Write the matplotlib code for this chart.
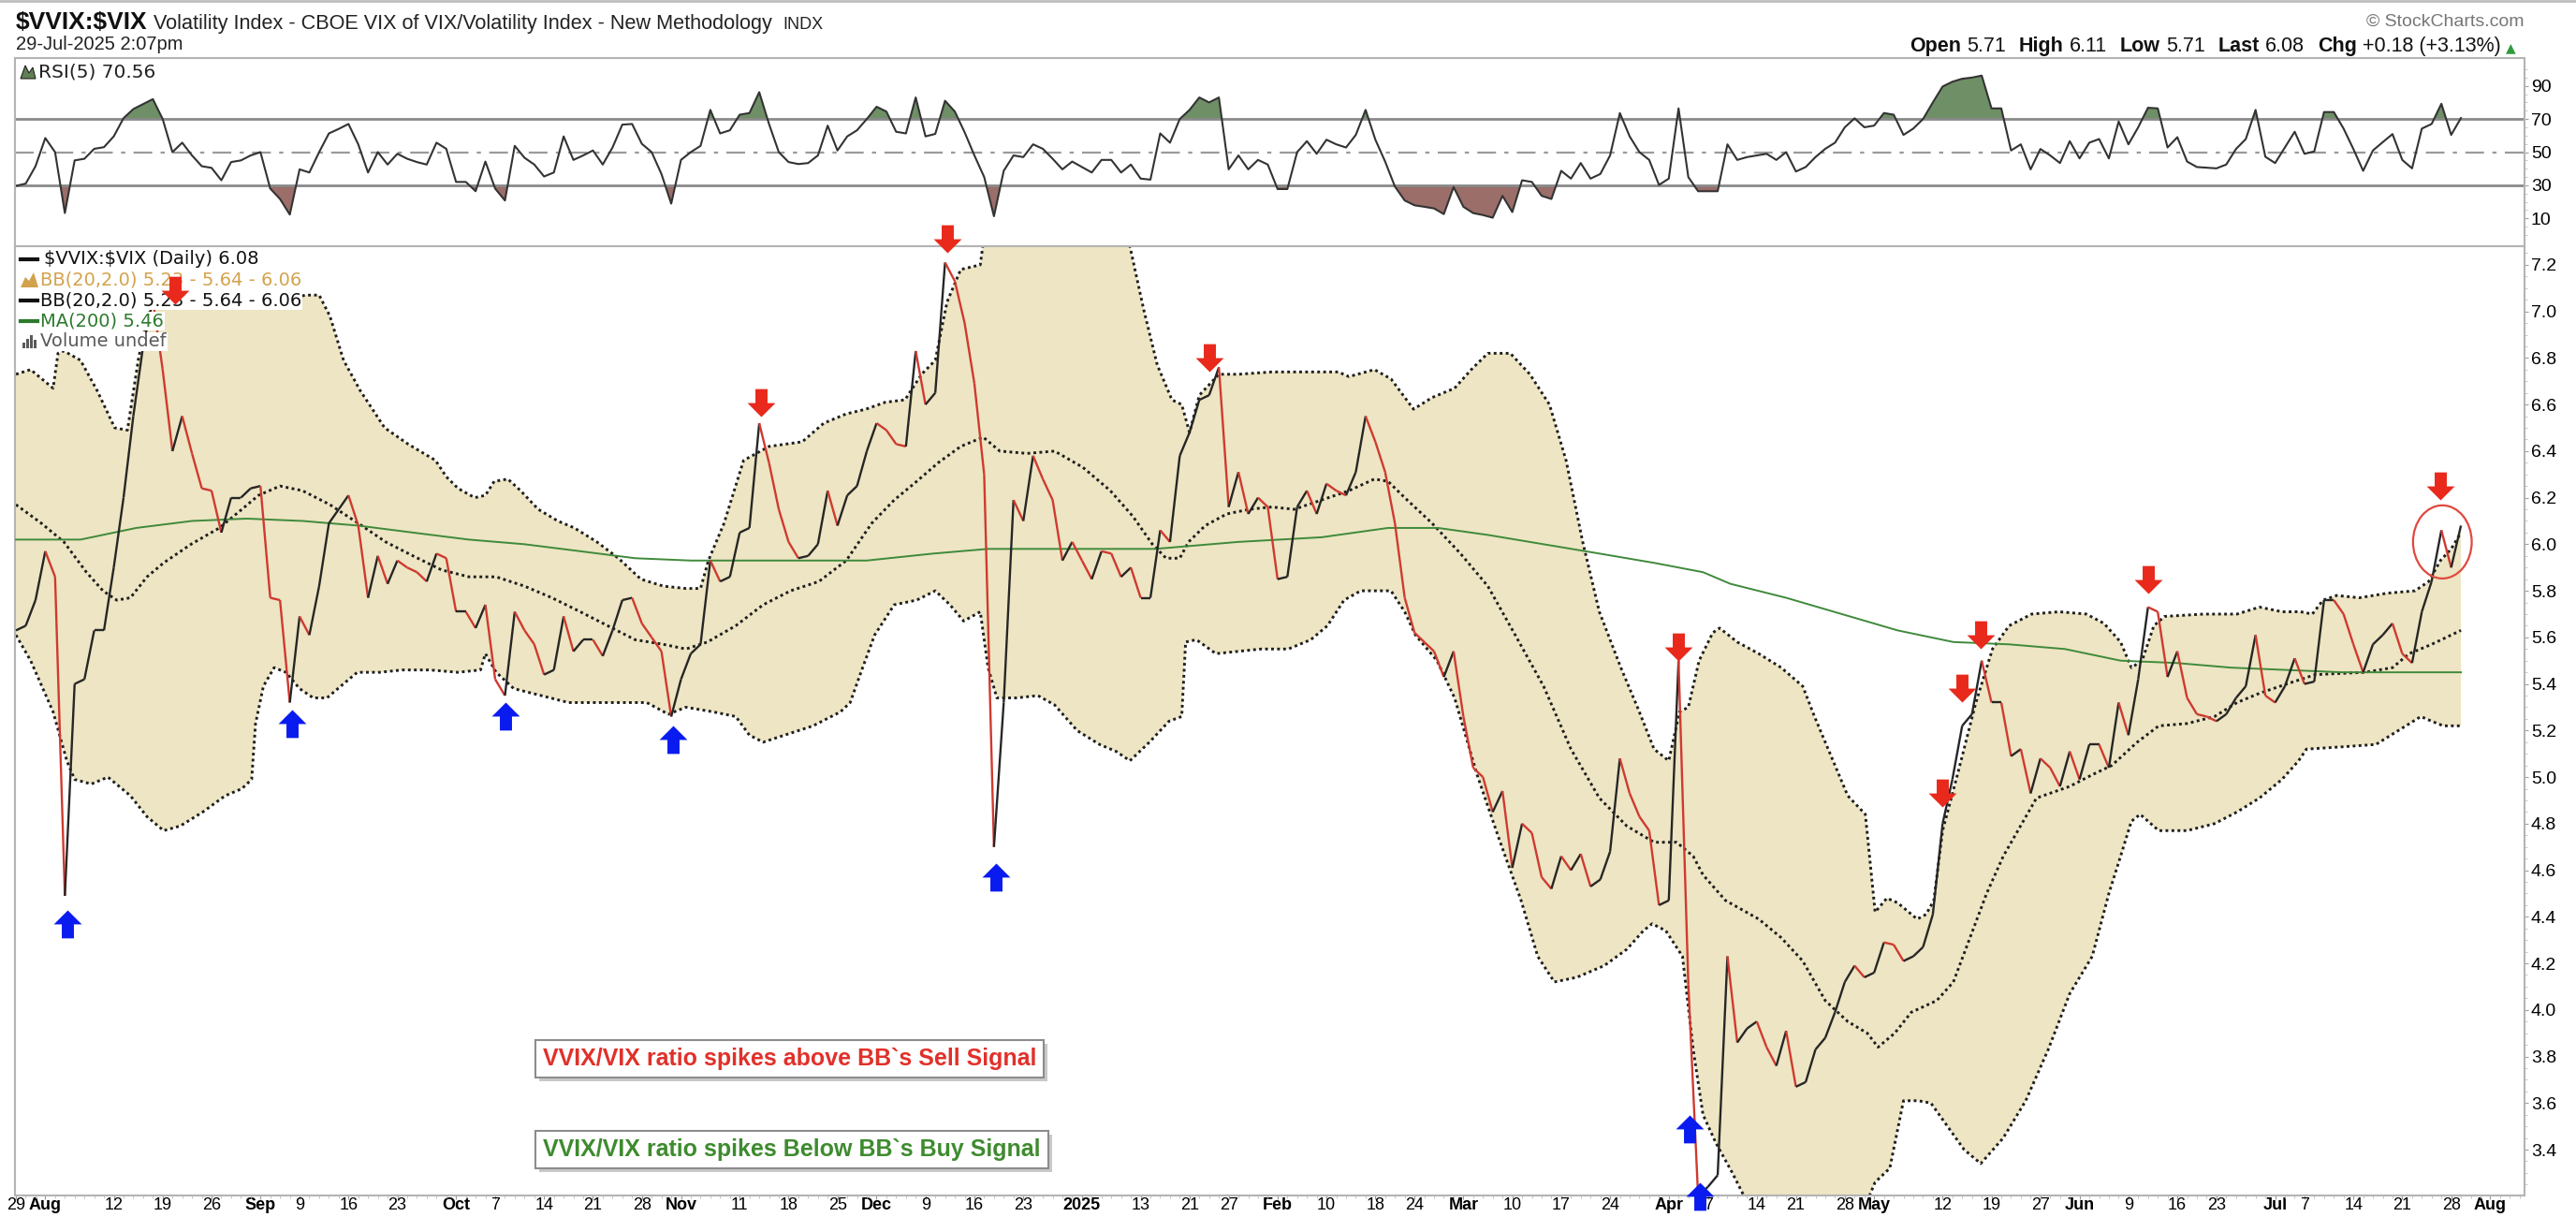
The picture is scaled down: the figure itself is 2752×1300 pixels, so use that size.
import numpy as np
import pandas as pd
import matplotlib
matplotlib.use('Agg')
import matplotlib.pyplot as plt
import matplotlib.transforms as mtransforms
from matplotlib.collections import LineCollection
from matplotlib.path import Path
from matplotlib.patches import Ellipse, Polygon
from matplotlib.lines import Line2D
from matplotlib import font_manager

# ---------------- data ----------------
holidays = ['2024-09-02', '2024-11-28', '2024-12-25', '2025-01-01', '2025-01-09', '2025-01-20',
            '2025-02-17', '2025-04-18', '2025-05-26', '2025-06-19', '2025-07-04']

# daily VVIX/VIX close, 29-Jul-2024 .. 29-Jul-2025
ratio = [5.63, 5.65, 5.76, 5.97, 5.86, 4.49, 5.40, 5.42, 5.63, 5.63,
         5.90, 6.20, 6.55, 6.85, 7.05, 6.75, 6.40, 6.55, 6.39, 6.24,
         6.23, 6.05, 6.20, 6.20, 6.24, 6.25, 5.77, 5.76, 5.32, 5.69,
         5.61, 5.82, 6.09, 6.15, 6.21, 6.08, 5.77, 5.95, 5.83, 5.93,
         5.90, 5.88, 5.84, 5.96, 5.94, 5.71, 5.71, 5.64, 5.74, 5.42,
         5.35, 5.71, 5.63, 5.57, 5.44, 5.46, 5.69, 5.54, 5.59, 5.59,
         5.52, 5.63, 5.76, 5.77, 5.66, 5.60, 5.54, 5.26, 5.42, 5.53,
         5.57, 5.93, 5.84, 5.86, 6.05, 6.07, 6.52, 6.35, 6.15, 6.01,
         5.94, 5.95, 6.00, 6.23, 6.08, 6.21, 6.25, 6.40, 6.52, 6.49,
         6.43, 6.42, 6.83, 6.60, 6.65, 7.21, 7.13, 6.95, 6.69, 6.30,
         4.70, 5.32, 6.19, 6.10, 6.38, 6.28, 6.19, 5.93, 6.01, 5.93,
         5.85, 5.97, 5.96, 5.86, 5.90, 5.77, 5.77, 6.06, 6.01, 6.38,
         6.48, 6.62, 6.64, 6.76, 6.16, 6.31, 6.13, 6.20, 6.16, 5.85,
         5.86, 6.16, 6.23, 6.13, 6.26, 6.23, 6.21, 6.31, 6.55, 6.44,
         6.31, 6.09, 5.77, 5.62, 5.58, 5.54, 5.43, 5.54, 5.26, 5.04,
         5.00, 4.85, 4.94, 4.61, 4.80, 4.76, 4.57, 4.52, 4.66, 4.60,
         4.67, 4.53, 4.56, 4.68, 5.08, 4.93, 4.83, 4.77, 4.45, 4.47,
         5.50, 4.11, 3.20, 3.24, 3.29, 4.23, 3.86, 3.92, 3.95, 3.84,
         3.76, 3.91, 3.67, 3.69, 3.83, 3.88, 3.99, 4.12, 4.19, 4.14,
         4.16, 4.29, 4.28, 4.21, 4.23, 4.27, 4.41, 4.80, 4.99, 5.22,
         5.27, 5.50, 5.32, 5.32, 5.09, 5.12, 4.93, 5.08, 5.04, 4.96,
         5.11, 4.99, 5.14, 5.14, 5.04, 5.32, 5.18, 5.42, 5.73, 5.71,
         5.43, 5.54, 5.34, 5.27, 5.26, 5.24, 5.27, 5.34, 5.39, 5.61,
         5.35, 5.32, 5.39, 5.51, 5.40, 5.41, 5.76, 5.76, 5.70, 5.57,
         5.45, 5.57, 5.61, 5.66, 5.53, 5.49, 5.71, 5.84, 6.06, 5.90,
         6.08]

rsi = [29.6, 31, 41.5, 58.5, 50, 13.2, 45, 46, 52, 53,
       59.5, 70.5, 76, 79, 82, 70, 50, 55.7, 48, 41.5,
       40.5, 33, 44, 45, 48, 50, 28, 21.7, 12.3, 39.6,
       37.7, 50, 61.3, 64, 67, 54.7, 37.7, 50, 42.5, 49,
       46, 44, 42.5, 55.7, 52, 32, 32, 26.4, 44.3, 28,
       20.8, 53.8, 46.6, 42.5, 35.3, 37.7, 59.5, 45.3, 48, 51,
       42.5, 52.8, 66.6, 67, 55, 50, 36.8, 18.9, 45.3, 50,
       53.8, 75.5, 61.3, 63.2, 72.6, 73.6, 86.2, 67, 50, 44,
       42.8, 43.4, 48, 66, 51, 59.5, 63.2, 70, 77.4, 74.5,
       62.3, 61.3, 83, 59.5, 61, 81, 74.5, 62, 48, 35,
       11.3, 38.7, 48, 47, 54.7, 52, 46, 39.6, 44.3, 41,
       37.7, 45.3, 45.3, 37.7, 42.5, 34, 33.4, 61.3, 55.7, 70,
       75.5, 83, 80, 83, 39.6, 48, 39.6, 45.3, 42.5, 27.7,
       27.7, 50, 56.6, 49, 57.5, 54.7, 52.8, 60.4, 75.5, 57.5,
       44.3, 29.2, 20.8, 17.9, 17, 16, 12.6, 28.9, 17, 13.2,
       12, 10.4, 23.6, 13.8, 33, 32, 23.6, 21.7, 38.7, 34,
       43.4, 34, 36.8, 48, 73.6, 59.5, 50, 45.3, 30.2, 34,
       76.4, 34.9, 26.4, 26.4, 26.4, 54.7, 45.3, 47, 48, 49,
       45.3, 50, 38.3, 41, 47, 52, 55.7, 65, 70.4, 65,
       66, 73.6, 72.6, 60.4, 64.2, 70, 80, 89.6, 92.5, 94.3,
       95, 96.2, 76.4, 76.4, 51, 54.7, 39.6, 51.9, 48, 43.4,
       56.6, 46.2, 55.7, 57.9, 46.2, 68.5, 54.7, 65, 76.8, 76.4,
       52.8, 59, 44.3, 41, 40.6, 40.2, 42.5, 51.9, 57.9, 75.5,
       47.2, 43.4, 52.8, 62.3, 49, 50.4, 74.2, 74.2, 64.2, 51.9,
       38.7, 51, 56, 60.9, 45.3, 40.2, 64.2, 67, 79.2, 60.4,
       70.56]

# Bollinger band / MA lines, (trading day number, value)
bb_up_x = [0, 1.5, 3.8, 4.3, 4.9, 6.6, 8.3, 10.1, 11.4, 12.5, 13.4, 14.5, 17, 20, 23, 25.9, 27.6, 29.6,
           31.0, 32.1, 33.5, 35.2, 37.7, 40.1, 42.9, 44.0, 45.2, 46.9, 48.0, 48.9, 50.3, 51.6, 53.4,
           55.4, 57.1, 59.4, 61.6, 63.9, 66.2, 68.5, 70.0, 70.8, 72.4, 74.4, 77.0, 80.4, 82.6, 84.9,
           86.9, 88.9, 90.9, 92.6, 94.0, 95.2, 96.6, 98.6, 99.4, 101, 104, 108, 111, 113.0, 113.9,
           115.3, 116.7, 118.2, 119.2, 120.0, 121.0, 123.0, 125.0, 128.4, 131.8, 135.2, 136.3, 138.9,
           140.6, 142.9, 144.8, 147.1, 148.8, 150.5, 152.8, 154.8, 156.8, 158.5, 160.2, 161.9, 164.1,
           165.8, 167.5, 169.0, 170.1, 171.0, 172.1, 173.5, 174.2, 176, 178.2, 180.5, 182.7, 183.9,
           185.6, 187.3, 189.1, 190.1, 191.3, 192.4, 194.4, 195.3, 196.1, 197.0, 198.7, 200.4, 202.1,
           203.8, 206.1, 208.9, 211.7, 213.5, 215.2, 216.3, 217.4, 218.6, 219.7, 223.7, 227.1, 229.4,
           231.7, 233.6, 234.8, 235.9, 237.3, 239.6, 242.5, 245.3, 246.7, 247.9, 249.0, 250]
bb_up_y = [6.73, 6.75, 6.67, 6.82, 6.83, 6.79, 6.66, 6.50, 6.49, 6.79, 6.98, 7.05, 7.06, 7.05, 7.05, 7.04,
           7.05, 7.07, 7.07, 6.98, 6.79, 6.66, 6.50, 6.43, 6.36, 6.29, 6.24, 6.20, 6.21, 6.27, 6.28,
           6.23, 6.15, 6.10, 6.07, 6.01, 5.94, 5.85, 5.82, 5.81, 5.81, 5.93, 6.09, 6.36, 6.42, 6.44,
           6.52, 6.56, 6.58, 6.61, 6.62, 6.73, 6.79, 7.04, 7.18, 7.20, 7.45, 7.65, 7.75, 7.70, 7.55,
           7.38, 7.28, 7.01, 6.77, 6.62, 6.60, 6.48, 6.64, 6.73, 6.73, 6.74, 6.74, 6.74, 6.72, 6.75,
           6.71, 6.58, 6.63, 6.67, 6.75, 6.82, 6.82, 6.73, 6.60, 6.36, 6.01, 5.71, 5.47, 5.30, 5.12,
           5.07, 5.28, 5.30, 5.50, 5.62, 5.64, 5.58, 5.53, 5.47, 5.39, 5.26, 5.09, 4.92, 4.84, 4.42,
           4.48, 4.46, 4.39, 4.41, 4.47, 4.77, 5.04, 5.32, 5.55, 5.65, 5.70, 5.71, 5.70, 5.66, 5.58,
           5.47, 5.50, 5.65, 5.69, 5.70, 5.70, 5.73, 5.71, 5.71, 5.70, 5.76, 5.78, 5.77, 5.79, 5.80,
           5.84, 5.93, 5.98, 6.05]

bb_lo_x = [0, 1.5, 3.8, 5.2, 6.0, 7.7, 9.4, 11.7, 13.4, 15.1, 16.8, 19.1, 21.4, 23.1, 24.1, 24.5, 25.3,
           26.4, 27.6, 29.0, 30.4, 31.8, 33.2, 34.9, 37.2, 39.5, 42.3, 45.2, 47.5, 48.0, 49.1, 50.9,
           53.7, 56.5, 59.4, 62.2, 64.5, 66.7, 68.5, 71.3, 73.6, 75.0, 76.4, 78.6, 81.5, 84.3, 85.3,
           86.4, 87.8, 89.8, 92.1, 94.0, 95.5, 96.9, 98.6, 99.4, 100.3, 102.3, 104.5, 106.2, 108.5,
           110.8, 112.5, 113.9, 115.9, 117.9, 119.2, 119.6, 120.7, 122.7, 125.0, 127.3, 130.1, 132.4,
           134.1, 135.8, 137.5, 140.6, 142.0, 143.1, 145.3, 147.1, 149.4, 151.6, 153.9, 155.6, 157.3,
           159.6, 162.4, 164.7, 166.4, 167.3, 168.7, 170.4, 171.5, 172.5, 173.8, 175.5, 176.7, 178,
           181, 185, 188, 190.1, 191.6, 193, 194.5, 195.8, 197.5, 199.2, 200.9, 203.2, 205.5, 207.8,
           210.0, 212.3, 214.0, 215.2, 216.3, 217.2, 219.1, 222, 224.8, 227.1, 229.4, 231.7, 233.4,
           234.2, 237.9, 241.3, 243.6, 245.9, 247, 248.2, 250]
bb_lo_y = [5.61, 5.50, 5.28, 5.07, 4.99, 4.97, 5.00, 4.92, 4.83, 4.77, 4.79, 4.85, 4.92, 4.95, 4.99, 5.23,
           5.39, 5.47, 5.45, 5.38, 5.34, 5.34, 5.39, 5.45, 5.45, 5.46, 5.46, 5.45, 5.46, 5.53, 5.45,
           5.38, 5.35, 5.32, 5.32, 5.32, 5.32, 5.27, 5.30, 5.28, 5.26, 5.18, 5.15, 5.18, 5.22, 5.28,
           5.32, 5.45, 5.61, 5.74, 5.76, 5.80, 5.74, 5.67, 5.71, 5.47, 5.34, 5.34, 5.35, 5.31, 5.20,
           5.14, 5.11, 5.07, 5.15, 5.24, 5.26, 5.58, 5.59, 5.53, 5.54, 5.55, 5.55, 5.59, 5.65, 5.76,
           5.80, 5.80, 5.71, 5.61, 5.50, 5.34, 5.01, 4.74, 4.47, 4.23, 4.12, 4.14, 4.19, 4.26, 4.34,
           4.37, 4.34, 4.23, 3.83, 3.55, 3.43, 3.30, 3.20, 3.05, 2.95, 2.95, 3.05, 3.26, 3.32, 3.61,
           3.61, 3.60, 3.50, 3.40, 3.34, 3.45, 3.61, 3.83, 4.07, 4.23, 4.50, 4.66, 4.81, 4.84, 4.77,
           4.77, 4.80, 4.85, 4.91, 4.99, 5.07, 5.12, 5.13, 5.14, 5.20, 5.26, 5.24, 5.22, 5.22]

bb_mid_x = [0, 2.6, 4.9, 7.2, 8.9, 10.3, 11.7, 13.4, 15.1, 17.9, 20.8, 23.1, 24.8, 27.0, 29.3, 32.1, 35.0,
            37.8, 40.6, 43.5, 46.3, 49.1, 52.0, 54.8, 57.7, 60.5, 63.3, 66.2, 68.5, 70.7, 73.6, 76.4,
            79.2, 82.1, 84.9, 87.5, 89.8, 92.1, 94.3, 96.6, 98.9, 100.6, 103.4, 106.2, 109.1, 111.9,
            114.2, 116.2, 117.6, 119.0, 119.9, 121.6, 123.8, 126.1, 128.4, 130.7, 133.5, 136.3, 138.9,
            140.3, 142.0, 144.8, 147.7, 150.5, 153.3, 156.2, 159.0, 161.9, 164.7, 167.5, 169.8, 171.5,
            172.5, 174.8, 178.2, 180.5, 182.7, 185.0, 187.3, 189.3, 190.4, 192.1, 193.8, 196.4, 198.1,
            199.8, 201.5, 203.2, 206.6, 210.0, 212.3, 214.3, 216.9, 219.1, 222, 224.8, 227.1, 229.4,
            232.2, 235.1, 240.2, 243.0, 244.7, 247.0, 250.0]
bb_mid_y = [6.17, 6.09, 6.01, 5.88, 5.80, 5.76, 5.77, 5.86, 5.92, 6.00, 6.07, 6.15, 6.21, 6.25, 6.23, 6.17,
            6.09, 6.01, 5.95, 5.89, 5.86, 5.86, 5.82, 5.77, 5.71, 5.65, 5.59, 5.57, 5.55, 5.58, 5.65,
            5.74, 5.80, 5.84, 5.93, 6.09, 6.19, 6.27, 6.35, 6.42, 6.46, 6.40, 6.39, 6.40, 6.33, 6.23,
            6.12, 6.00, 5.94, 5.94, 6.01, 6.08, 6.13, 6.15, 6.16, 6.15, 6.19, 6.23, 6.28, 6.27, 6.20,
            6.09, 5.96, 5.82, 5.61, 5.39, 5.12, 4.91, 4.79, 4.72, 4.72, 4.66, 4.58, 4.47, 4.39, 4.31,
            4.21, 4.04, 3.95, 3.90, 3.84, 3.90, 3.99, 4.04, 4.12, 4.31, 4.50, 4.66, 4.91, 4.96, 5.01,
            5.05, 5.15, 5.22, 5.23, 5.26, 5.32, 5.36, 5.40, 5.44, 5.45, 5.47, 5.53, 5.57, 5.63]

ma200_x = [0, 6.6, 12.3, 18.0, 23.6, 29.3, 35.0, 40.6, 46.3, 52.0, 57.7, 63.3, 69.0, 80.4, 87, 93.8, 99.4,
           108.0, 116.5, 125.0, 133.5, 140.3, 145.4, 150.5, 156.2, 161.9, 167.5, 172.5, 175.3, 181,
           186.7, 192.4, 198.1, 203.8, 209.5, 215.2, 220.9, 226.5, 232.2, 237.9, 243.6, 250]
ma200_y = [6.02, 6.02, 6.07, 6.10, 6.11, 6.10, 6.08, 6.05, 6.02, 6.00, 5.97, 5.94, 5.93, 5.93, 5.93, 5.96,
           5.98, 5.98, 5.98, 6.01, 6.03, 6.07, 6.07, 6.04, 6.00, 5.96, 5.92, 5.88, 5.83, 5.77, 5.70,
           5.63, 5.58, 5.57, 5.55, 5.50, 5.49, 5.47, 5.46, 5.45, 5.45, 5.45]

# hand-drawn signal arrows: (trading day, value at arrow tip)
sell_x = [16.3, 76.2, 95.2, 122.0, 170.0, 197.0, 199.0, 200.9, 218.0, 247.9]
sell_y = [7.03, 6.55, 7.25, 6.74, 5.50, 4.87, 5.32, 5.55, 5.79, 6.19]
buy_x = [5.3, 28.2, 50.1, 67.2, 100.2, 171.15, 172.2]
buy_y = [4.43, 5.29, 5.32, 5.22, 4.63, 3.55, 3.26]

tick_dates = ['2024-07-29', '2024-08-01', '2024-08-12', '2024-08-19', '2024-08-26', '2024-09-03',
              '2024-09-09', '2024-09-16', '2024-09-23', '2024-10-01', '2024-10-07', '2024-10-14',
              '2024-10-21', '2024-10-28', '2024-11-01', '2024-11-11', '2024-11-18', '2024-11-25',
              '2024-12-02', '2024-12-09', '2024-12-16', '2024-12-23', '2025-01-02', '2025-01-13',
              '2025-01-21', '2025-01-27', '2025-02-03', '2025-02-10', '2025-02-18', '2025-02-24',
              '2025-03-03', '2025-03-10', '2025-03-17', '2025-03-24', '2025-04-01', '2025-04-07',
              '2025-04-14', '2025-04-21', '2025-04-28', '2025-05-01', '2025-05-12', '2025-05-19',
              '2025-05-27', '2025-06-02', '2025-06-09', '2025-06-16', '2025-06-23', '2025-07-01',
              '2025-07-07', '2025-07-14', '2025-07-21', '2025-07-28', '2025-08-01']
tick_labels = ['29', 'Aug', '12', '19', '26', 'Sep', '9', '16', '23', 'Oct', '7', '14', '21', '28', 'Nov',
               '11', '18', '25', 'Dec', '9', '16', '23', '2025', '13', '21', '27', 'Feb', '10', '18', '24',
               'Mar', '10', '17', '24', 'Apr', '7', '14', '21', '28', 'May', '12', '19', '27', 'Jun', '9',
               '16', '23', 'Jul', '7', '14', '21', '28', 'Aug']

# ---------------- setup ----------------
avail = {f.name for f in font_manager.fontManager.ttflist}
ARIAL = 'Liberation Sans' if 'Liberation Sans' in avail else 'DejaVu Sans'
LEG = 'DejaVu Sans'
plt.rcParams['font.family'] = [ARIAL, 'DejaVu Sans']

days = pd.bdate_range('2024-07-29', '2025-08-15')
days = days[~days.isin(pd.to_datetime(holidays))]
day_pos = {d: i for i, d in enumerate(days)}
tick_pos = [day_pos[pd.Timestamp(d)] for d in tick_dates]

W, H = 2752, 1300
fig = plt.figure(figsize=(W / 100, H / 100), dpi=100)


def fx(p):
    return p / W


def fy(p):
    return 1 - p / H


L, R, BOT = 16, 2697, 1277
ax_rsi = fig.add_axes([fx(L), fy(263), fx(R - L), (263 - 62) / H])
ax = fig.add_axes([fx(L), fy(BOT), fx(R - L), (BOT - 263) / H], sharex=ax_rsi)

SPINE = '#b4b4b4'
for a in (ax, ax_rsi):
    for s in a.spines.values():
        s.set_color(SPINE)
        s.set_linewidth(1.5)

# ---------------- RSI panel ----------------
rx = np.arange(len(rsi))
rv = np.array(rsi)
ax_rsi.fill_between(rx, rv, 70, where=rv >= 70, interpolate=True, color='#6f8f67', lw=0)
ax_rsi.fill_between(rx, rv, 30, where=rv <= 30, interpolate=True, color='#9b6e69', lw=0)
ax_rsi.axhline(70, color='#8a8a8a', lw=2)
ax_rsi.axhline(30, color='#8a8a8a', lw=2)
ax_rsi.axhline(50, color='#9a9a9a', lw=1.6, ls=(0, (9, 4, 2, 4)))
ax_rsi.plot(rx, rv, color='#333333', lw=1.5)
ax_rsi.set_ylim(-6.8, 106.8)
ax_rsi.yaxis.tick_right()
ax_rsi.set_yticks([10, 30, 50, 70, 90])
ax_rsi.set_yticks(np.arange(0, 101, 5), minor=True)
ax_rsi.tick_params(axis='y', which='major', length=3, color='#a0a0a0', labelsize=14, pad=2)
ax_rsi.tick_params(axis='y', which='minor', length=2, color='#c0c0c0')
ax_rsi.tick_params(axis='x', which='both', bottom=False, labelbottom=False)

# ---------------- main panel ----------------
ax.fill(list(bb_up_x) + bb_lo_x[::-1], list(bb_up_y) + bb_lo_y[::-1], color='#ede5c3', lw=0, zorder=1)
for xs, ys in ((bb_up_x, bb_up_y), (bb_lo_x, bb_lo_y), (bb_mid_x, bb_mid_y)):
    ax.plot(xs, ys, color='#1e1e1e', lw=2.1, ls=(0, (1, 1.2)), zorder=2)
ax.plot(ma200_x, ma200_y, color='#3f8a3b', lw=1.4, zorder=3)

px_ = np.arange(len(ratio))
pv = np.array(ratio)
segs = np.stack([np.column_stack([px_[:-1], pv[:-1]]), np.column_stack([px_[1:], pv[1:]])], axis=1)
cols = np.where(np.diff(pv) < 0, '#cf3a30', '#262626')
ax.add_collection(LineCollection(segs, colors=cols, linewidths=1.7, zorder=4))

ax.set_xlim(-0.1, 256.5)
ax.set_ylim(3.195 + (1279 - BOT) / 248.7, 7.28)
ax.yaxis.tick_right()
ax.set_yticks(np.round(np.arange(3.4, 7.21, 0.2), 1))
ax.set_yticklabels(['%.1f' % v for v in np.arange(3.4, 7.21, 0.2)])
ax.set_yticks(np.arange(3.25, 7.3, 0.05), minor=True)
ax.tick_params(axis='y', which='major', length=3, color='#a0a0a0', labelsize=14, pad=2)
ax.tick_params(axis='y', which='minor', length=2, color='#c0c0c0')

ax.set_xticks(tick_pos)
ax.set_xticklabels(tick_labels)
ax.set_xticks(np.arange(0, 257), minor=True)
ax.tick_params(axis='x', which='major', length=3, color='#999999', labelsize=13, pad=-1.5)
ax.tick_params(axis='x', which='minor', length=2, color='#bbbbbb')
for t in ax.get_xticklabels():
    if not t.get_text().isdigit() or t.get_text() == '2025':
        t.set_fontweight('bold')

# arrows
down = Path([(0, 0), (-15, 15), (-6.5, 15), (-6.5, 30), (6.5, 30), (6.5, 15), (15, 15), (0, 0)],
            [Path.MOVETO] + [Path.LINETO] * 6 + [Path.CLOSEPOLY])
up = Path([(x, -y) for x, y in down.vertices], down.codes)
ax.plot(sell_x, sell_y, ls='none', marker=down, markersize=43, color='#e8291c', mec='none',
        zorder=12, clip_on=False)
ax.plot(buy_x, buy_y, ls='none', marker=up, markersize=43, color='#0a1bef', mec='none',
        zorder=12, clip_on=False)
ax.add_patch(Ellipse((248.1, 6.01), 6.0, 0.314, fill=False, ec='#e0493f', lw=1.6, zorder=11))

# signal boxes
for txt, col, yc in (('VVIX/VIX ratio spikes above BB`s Sell Signal', '#e0312a', 1131),
                     ('VVIX/VIX ratio spikes Below BB`s Buy Signal', '#3e8b2f', 1228)):
    sh = mtransforms.offset_copy(fig.transFigure, fig=fig, x=4, y=-4, units='dots')
    ax.text(fx(580), fy(yc), txt, transform=sh, fontsize=18, fontweight='bold', color='none',
            va='center', ha='left', zorder=8,
            bbox=dict(boxstyle='square,pad=0.32', fc='#c9c9c9', ec='none'))
    ax.text(fx(580), fy(yc), txt, transform=fig.transFigure, fontsize=18, fontweight='bold',
            color=col, va='center', ha='left', zorder=9,
            bbox=dict(boxstyle='square,pad=0.32', fc='white', ec='#8c8c8c', lw=1.5))

# main legend
legend_rows = [(r'\$VVIX:\$VIX (Daily) 6.08', '#111111', 'line', 47),
               ('BB(20,2.0) 5.23 - 5.64 - 6.06', '#d3a24c', 'mount', 43),
               ('BB(20,2.0) 5.23 - 5.64 - 6.06', '#111111', 'line', 43),
               ('MA(200) 5.46', '#2d7a2d', 'line', 43),
               ('Volume undef', '#5a5a5a', 'bars', 43)]
for k, (txt, col, icon, x0) in enumerate(legend_rows):
    yc = 277 + k * 22
    ax.text(fx(x0), fy(yc), txt, transform=fig.transFigure, fontsize=14, color=col,
            family=LEG, va='center', ha='left', zorder=10,
            bbox=dict(boxstyle='square,pad=0.05', fc='white', ec='none'))
    if icon == 'line':
        fig.add_artist(Line2D([fx(22), fx(40)], [fy(yc), fy(yc)], color=col, lw=3))
    elif icon == 'mount':
        fig.add_artist(Polygon([(fx(22), fy(yc + 8)), (fx(27), fy(yc - 3)), (fx(31), fy(yc + 1)),
                                (fx(36), fy(yc - 8)), (fx(41), fy(yc + 8))], closed=True,
                               transform=fig.transFigure, fc=col, ec='none'))
    else:
        for j, hgt in enumerate((6, 10, 14, 9)):
            fig.add_artist(Polygon([(fx(24 + 4 * j), fy(yc + 7)), (fx(27 + 4 * j), fy(yc + 7)),
                                    (fx(27 + 4 * j), fy(yc + 7 - hgt)), (fx(24 + 4 * j), fy(yc + 7 - hgt))],
                                   closed=True, transform=fig.transFigure, fc=col, ec='none'))

# RSI legend
fig.add_artist(Polygon([(fx(22), fy(84)), (fx(27), fy(70)), (fx(31), fy(78)), (fx(35), fy(72)),
                        (fx(38), fy(84))], closed=True, transform=fig.transFigure,
                       fc='#5f7f55', ec='#222222', lw=0.8))
fig.text(fx(41), fy(77), 'RSI(5) 70.56', fontsize=14.5, family=LEG, color='#222222',
         va='center', ha='left')

# ---------------- header ----------------
fig.add_artist(Line2D([0, 1], [fy(1), fy(1)], color='#bdbdbd', lw=2))
fig.text(fx(17), fy(31), r'\$VVIX:\$VIX', fontsize=19, fontweight='bold', color='#111111', va='baseline')
fig.text(fx(164), fy(31), 'Volatility Index - CBOE VIX of VIX/Volatility Index - New Methodology',
         fontsize=15.6, color='#222222', va='baseline')
fig.text(fx(836), fy(31), 'INDX', fontsize=13, color='#222222', va='baseline')
fig.text(fx(17), fy(53), '29-Jul-2025 2:07pm', fontsize=14.5, color='#222222', va='baseline')
fig.text(fx(2696), fy(28), '\u00a9 StockCharts.com', fontsize=14, color='#777777', va='baseline', ha='right')

ohlc = [('Open', 'bold'), ('5.71', 'normal'), ('High', 'bold'), ('6.11', 'normal'),
        ('Low', 'bold'), ('5.71', 'normal'), ('Last', 'bold'), ('6.08', 'normal'),
        ('Chg', 'bold'), ('+0.18 (+3.13%)', 'normal')]
renderer = fig.canvas.get_renderer()
xcur = 2040
for k, (s, w) in enumerate(ohlc):
    t = fig.text(fx(xcur), fy(55), s, fontsize=15.5, fontweight=w, color='#111111', va='baseline')
    bb = t.get_window_extent(renderer)
    xcur = bb.x1 + (6 if w == 'bold' else 14)
fig.text(fx(xcur - 8), fy(55), '\u25b2', fontsize=10, color='#2e9a3a', va='baseline', family='DejaVu Sans')

fig.savefig('out.png', dpi=100)
